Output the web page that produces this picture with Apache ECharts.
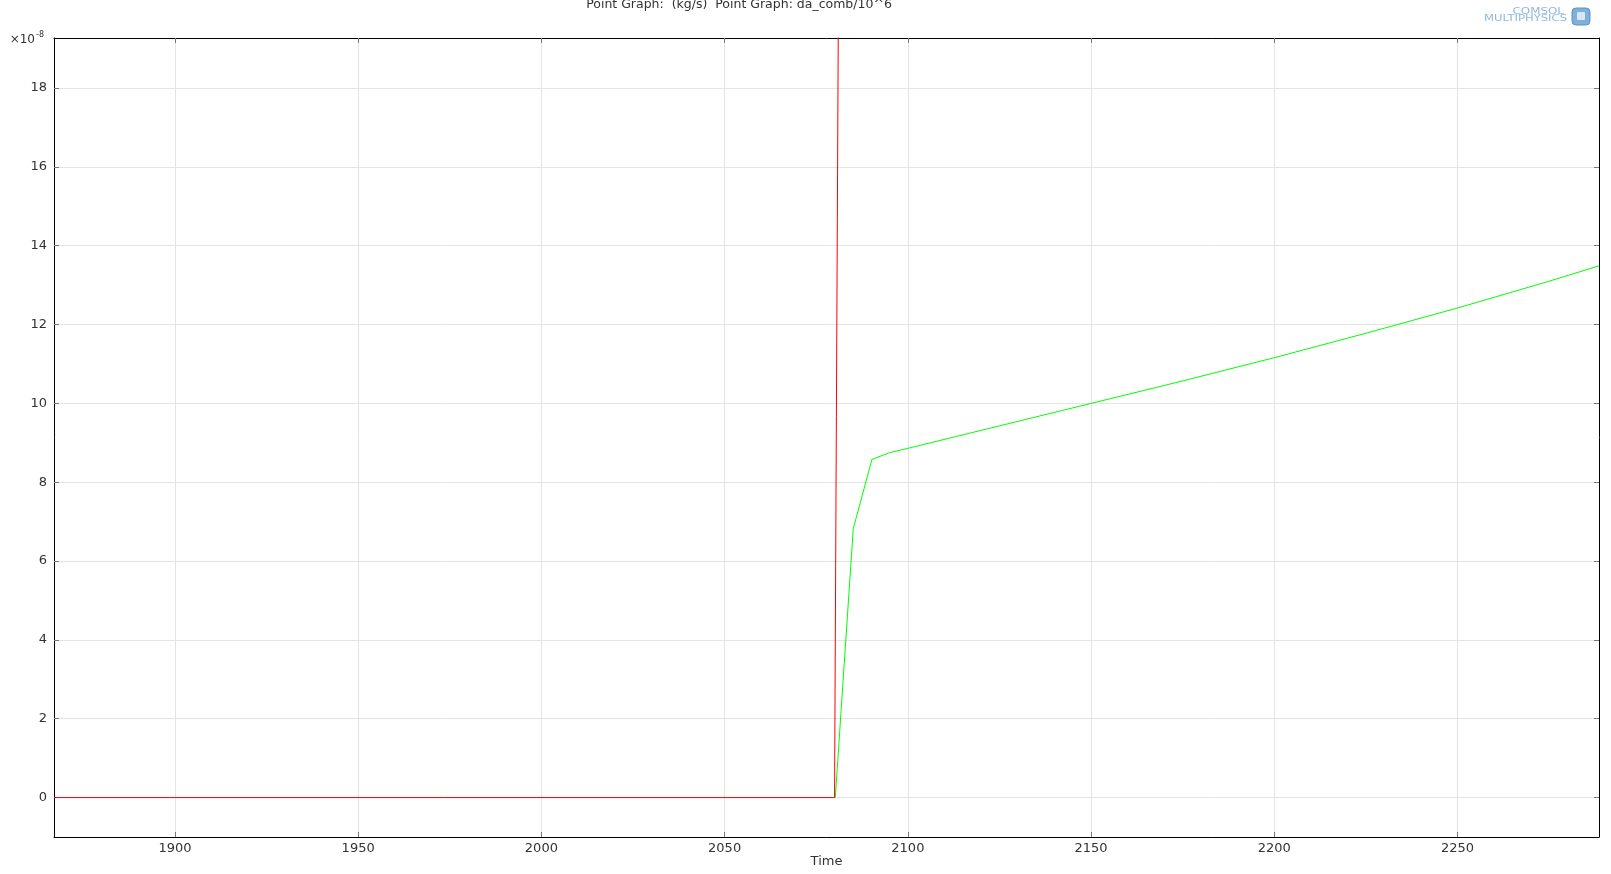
<!DOCTYPE html>
<html>
<head>
<meta charset="utf-8">
<script src="https://cdn.jsdelivr.net/npm/echarts@6/dist/echarts.min.js"></script>
<style>
html,body{margin:0;padding:0;background:#fff;}
#chart{width:1611px;height:874px;}
</style>
</head>
<body>
<div id="chart"></div>
<script>
// Values in units of 1e-8 (axis multiplier shown as x10^-8)
var titleText = 'Point Graph:  (kg/s)  Point Graph: da_comb/10^6';
var xTicks = [1900, 1950, 2000, 2050, 2100, 2150, 2200, 2250];
var yTicks = [0, 2, 4, 6, 8, 10, 12, 14, 16, 18];
var xRange = [1867, 2288.6];
var yRange = [-1, 19.27];

// red series: flat at zero then near-vertical spike off the top
var redTime  = [1867, 2080, 2081.05];
var redValue = [0, 0, 20.2];

// green series: da_comb/10^6 (its zero part lies under the red line)
var greenTime  = [2080.2, 2085.1, 2090.2, 2095, 2100, 2125, 2150, 2175, 2200, 2225, 2250, 2275, 2288.6];
var greenValue = [0, 6.82, 8.58, 8.75, 8.86, 9.43, 10.0, 10.57, 11.16, 11.78, 12.42, 13.1, 13.49];

function pairs(xs, ys){ return xs.map(function(x,i){ return [x, ys[i]]; }); }

var chart = echarts.init(document.getElementById('chart'), null, {renderer:'canvas'});
var font = 'DejaVu Sans';
var txt = '#333';
var grid = {left:54, right:12, top:38, bottom:37, containLabel:false, outerBoundsMode:'none'};

function xAx(pos, showLabel){
  return {
    type:'value', position:pos, min:xRange[0], max:xRange[1],
    axisLine:{show:true, onZero:false, lineStyle:{color:'#000', width:1}},
    axisTick:{show:true, inside:true, length:5, customValues:xTicks, lineStyle:{color:'#777'}},
    axisLabel:{show:showLabel, customValues:xTicks, margin:5, color:txt, fontFamily:font, fontSize:13,
               formatter:function(v){ return String(v); }},
    splitLine:{show:showLabel, lineStyle:{color:'#e4e4e4', width:1}},
    name: showLabel ? 'Time' : '', nameLocation:'middle', nameGap:18, nameMoveOverlap:false,
    nameTextStyle:{color:txt, fontFamily:font, fontSize:13}
  };
}
function yAx(pos, showLabel){
  return {
    type:'value', position:pos, min:yRange[0], max:yRange[1],
    axisLine:{show:true, onZero:false, lineStyle:{color:'#000', width:1}},
    axisTick:{show:true, inside:true, length:5, customValues:yTicks, lineStyle:{color:'#777'}},
    axisLabel:{show:showLabel, customValues:yTicks, margin:7, color:txt, fontFamily:font, fontSize:13,
               formatter:function(v){ return String(v); }},
    splitLine:{show:showLabel, lineStyle:{color:'#e4e4e4', width:1}}
  };
}

var option = {
  backgroundColor:'#fff',
  animation:false,
  grid:grid,
  xAxis:[xAx('bottom', true), xAx('top', false)],
  yAxis:[yAx('left', true), yAx('right', false)],
  series:[
    {type:'line', name:'green', data:pairs(greenTime, greenValue), showSymbol:false, symbol:'none',
     lineStyle:{color:'#00ff00', width:1}, clip:true, z:2},
    {type:'line', name:'red', data:pairs(redTime, redValue), showSymbol:false, symbol:'none',
     lineStyle:{color:'#ff0000', width:1}, clip:true, z:3}
  ],
  graphic:[
    {type:'text', x:739, y:5, style:{text:titleText, fill:txt, font:'12.5px "DejaVu Sans"', align:'center', verticalAlign:'middle'}},
    {type:'text', x:35, y:40, style:{text:'×10', fill:txt, font:'12px "DejaVu Sans"', align:'right', verticalAlign:'middle'}},
    {type:'text', x:36, y:35, style:{text:'-8', fill:txt, font:'8px "DejaVu Sans"', align:'left', verticalAlign:'middle'}},
    {type:'text', x:1564, y:12, scaleX:1.4, style:{text:'COMSOL', fill:'#8fb8dc', font:'8.5px "DejaVu Sans"', align:'right', verticalAlign:'middle'}},
    {type:'text', x:1567, y:19, scaleX:1.45, style:{text:'MULTIPHYSICS', fill:'#8fb8dc', font:'8px "DejaVu Sans"', align:'right', verticalAlign:'middle'}},
    {type:'rect', shape:{x:1572, y:8, width:18, height:17, r:4}, style:{fill:'#7fb0da', stroke:'#5d95c6'}},
    {type:'rect', shape:{x:1577, y:12, width:8, height:8, r:1}, style:{fill:'#d6e8f6'}}
  ]
};
chart.setOption(option);
</script>
</body>
</html>
